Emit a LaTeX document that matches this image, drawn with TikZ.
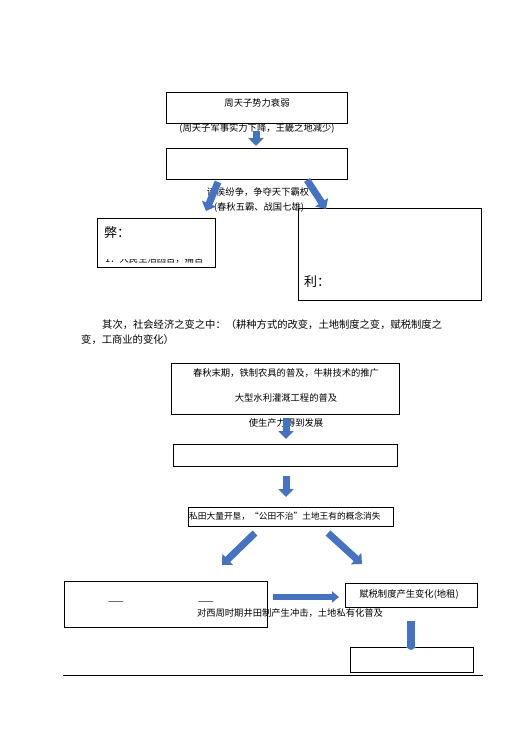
\documentclass[tikz,border=0pt]{standalone}
\usepackage{fontspec}
\newfontfamily\cjk{Noto Sans CJK SC}
\usepackage{tikz}
\usetikzlibrary{arrows.meta,positioning}
\definecolor{arrowblue}{HTML}{4472C4}
\tikzset{
  box/.style={draw, line width=0.7pt, inner sep=0pt, fill=white},
  txt/.style={font=\cjk\fontsize{9.3pt}{11pt}\selectfont, inner sep=0pt},
  blockarrow/.style={draw=arrowblue, line width=7pt,
    -{Triangle[width=15pt,length=8pt]}}
}
\begin{document}
\begin{tikzpicture}[x=1pt,y=-1pt]
    \useasboundingbox (0,0) rectangle (529,747);
    %the upper boxes
    \node[box, minimum width=181, minimum height=31] (weak) at (256.5,107.5) {};
    \node[box, minimum width=181, minimum height=31] (lords) at (256.5,163.5) {};
    \node[box, minimum width=118, minimum height=49] (bad) at (156,242.5) {};
    \node[box, minimum width=183, minimum height=92] (good) at (389.5,254) {};
%texts of the upper part
    \node[txt] (weaktext) at (257,103) {周天子势力衰弱};
    \node[txt] (weaknote) at (257,128) {(周天子军事实力下降，王畿之地减少)};
    \node[txt] (war) at (258,192) {诸侯纷争，争夺天下霸权};
    \node[txt] (wartwo) at (259,207) {(春秋五霸、战国七雄)};
    \node[txt, font=\cjk\fontsize{13pt}{15pt}\selectfont, anchor=west] (badlabel) at (104,233) {弊：};
    \node[txt, font=\cjk\fontsize{13pt}{15pt}\selectfont, anchor=west] (goodlabel) at (304,282) {利：};
    \begin{scope}
       \clip (98,259) rectangle (214,266);
       \node[txt, anchor=base west] (badone) at (105,262.5) {1．人民生活困苦，痛苦};
    \end{scope}
%the paragraph
    \node[txt, font=\cjk\fontsize{10.3pt}{12pt}\selectfont, anchor=west] (parone) at (102,325)
       {其次，社会经济之变之中：（耕种方式的改变，土地制度之变，赋税制度之};
    \node[txt, font=\cjk\fontsize{10.3pt}{12pt}\selectfont, anchor=west] (partwo) at (81,340)
       {变，工商业的变化）};
%the lower boxes
    \node[box, minimum width=228, minimum height=51] (iron) at (285,388.5) {};
    \node[box, minimum width=224, minimum height=22] (grow) at (285,455) {};
    \node[box, minimum width=205, minimum height=19] (land) at (290.5,516.5) {};
    \node[box, minimum width=203, minimum height=46] (well) at (165.5,604) {};
    \node[box, minimum width=132, minimum height=24] (tax) at (411,595) {};
    \node[box, minimum width=123, minimum height=25] (last) at (411.5,659.5) {};
%texts of the lower part
    \node[txt] (ironone) at (286,373) {春秋末期，铁制农具的普及，牛耕技术的推广};
    \node[txt] (irontwo) at (286,398) {大型水利灌溉工程的普及};
    \node[txt] (force) at (286,423) {使生产力得到发展};
    \node[txt, font=\cjk\fontsize{8.7pt}{10pt}\selectfont, anchor=west] (landtext) at (189,516)
       {私田大量开垦，“公田不治”土地王有的概念消失};
    \node[txt] (dashone) at (116,603) {——};
    \node[txt] (dashtwo) at (206,603) {——};
    \node[txt] (taxtext) at (409,594) {赋税制度产生变化(地租)};
    \node[txt] (welltext) at (290,613) {对西周时期井田制产生冲击，土地私有化普及};
%the arrows
    \coordinate (a1s) at (256,131);  \coordinate (a1e) at (256,146);
    \coordinate (a2s) at (218,182);  \coordinate (a2e) at (206,211);
    \coordinate (a3s) at (307,180);  \coordinate (a3e) at (326,209);
    \coordinate (a4s) at (286,418);  \coordinate (a4e) at (286,439);
    \coordinate (a5s) at (286,476);  \coordinate (a5e) at (286,497);
    \coordinate (a6s) at (255,533);  \coordinate (a6e) at (222,565);
    \coordinate (a7s) at (328,533);  \coordinate (a7e) at (362,564);
    \coordinate (a8s) at (273,597);  \coordinate (a8e) at (339,597);
    \coordinate (a9s) at (411,621);  \coordinate (a9e) at (411,650);
    \begin{scope}[every path/.style={blockarrow}]
       \draw (a1s) -- (a1e);
       \draw (a2s) -- (a2e);
       \draw (a3s) -- (a3e);
       \draw (a4s) -- (a4e);
       \draw (a5s) -- (a5e);
       \draw (a6s) -- (a6e);
       \draw (a7s) -- (a7e);
       \draw[line width=6pt, -{Triangle[width=11pt,length=7pt]}] (a8s) -- (a8e);
       \draw[line width=8pt, -{Triangle[width=11pt,length=3pt]}] (a9s) -- (a9e);
    \end{scope}
%the rule at the bottom
    \coordinate (rulel) at (63,675);
    \coordinate (ruler) at (483,675);
    \draw[line width=0.7pt] (rulel) -- (ruler);
\end{tikzpicture}
\end{document}
